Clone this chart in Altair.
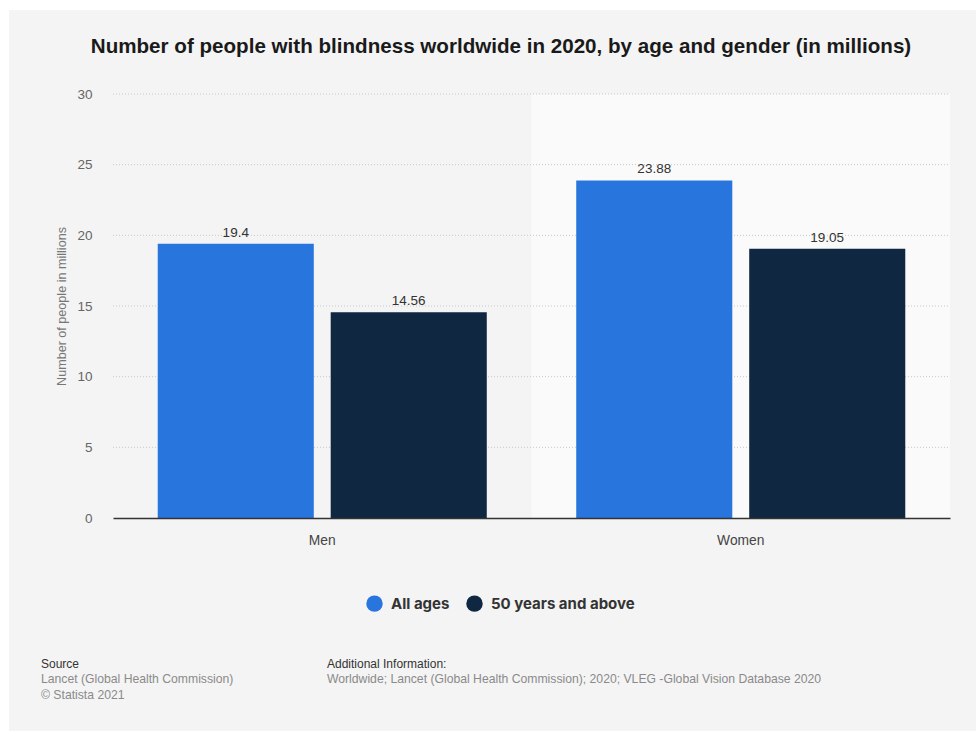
import altair as alt
import pandas as pd

genders = ["Men", "Men", "Women", "Women"]
groups = ["All ages", "50 years and above", "All ages", "50 years and above"]
values = [19.4, 14.56, 23.88, 19.05]
group_order = ["All ages", "50 years and above"]
group_colors = ["#2876dd", "#0f2740"]
y_ticks = [0, 5, 10, 15, 20, 25, 30]
grid_ticks = [5, 10, 15, 20, 25, 30]
title_text = "Number of people with blindness worldwide in 2020, by age and gender (in millions)"
y_title = "Number of people in millions"
source_lines = ["Lancet (Global Health Commission)", "© Statista 2021"]
info_line = "Worldwide; Lancet (Global Health Commission); 2020; VLEG -Global Vision Database 2020"

W, H = 837, 424
PL, PT = 113, 94
FONT = "Liberation Sans"

df = pd.DataFrame({"gender": genders, "group": groups, "value": values})
grid_df = pd.DataFrame({"v": grid_ticks})

x_scale = alt.Scale(paddingInner=0, paddingOuter=0)
y_scale = alt.Scale(domain=[0, 30], nice=False)
off_scale = alt.Scale(domain=group_order, paddingInner=0.0977, paddingOuter=0.2586)

X = alt.X("gender:N", scale=x_scale, sort=["Men", "Women"],
          axis=alt.Axis(title=None, labelAngle=0, ticks=False, domain=True,
                        domainColor="#333333", domainWidth=1.5, labelColor="#444444",
                        labelFontSize=13.8, labelPadding=15, labelFont=FONT, zindex=1))
Y = alt.Y("value:Q", scale=y_scale,
          axis=alt.Axis(title=y_title, values=y_ticks, grid=False, ticks=False, domain=False,
                        labelColor="#666666", labelFontSize=13.5, labelPadding=21,
                        labelFont=FONT, titleFont=FONT, titleFontSize=12.6,
                        titleFontWeight="normal", titleColor="#777777", titlePadding=8,
                        zindex=1))

bg = alt.Chart(pd.DataFrame({"a": [0]})).mark_rect(color="#f4f4f4").encode(
    x=alt.value(9 - PL), x2=alt.value(976 - PL + 5),
    y=alt.value(10 - PT), y2=alt.value(731 - PT + 5))

band = alt.Chart(df[df.gender == "Women"]).mark_rect(color="#fafafa").encode(
    x=X, y=alt.value(0), y2=alt.value(H))

grid = alt.Chart(grid_df).mark_rule(color="#c8c8c8", strokeDash=[1, 2], strokeWidth=1).encode(
    y=alt.Y("v:Q", scale=y_scale), x=alt.value(0), x2=alt.value(W))

bars = alt.Chart(df).mark_bar().encode(
    x=X, y=Y,
    xOffset=alt.XOffset("group:N", scale=off_scale, sort=group_order),
    color=alt.Color("group:N", sort=group_order,
                    scale=alt.Scale(domain=group_order, range=group_colors),
                    legend=alt.Legend(title=None, orient="none", direction="horizontal",
                                      legendX=366 - PL, legendY=595 - PT,
                                      symbolType="circle", symbolSize=270,
                                      symbolStrokeWidth=0, symbolOpacity=1,
                                      labelFont="Inter", labelFontSize=15,
                                      labelFontWeight="bold", labelColor="#333333",
                                      columnPadding=16, labelOffset=8)))

labels = alt.Chart(df).mark_text(dy=-11, fontSize=13.5, color="#333333", font=FONT).encode(
    x=X, y=Y,
    xOffset=alt.XOffset("group:N", scale=off_scale, sort=group_order),
    text=alt.Text("value:Q"))

def text_layer(s, x, y, color, size, weight="normal", align="left"):
    return alt.Chart(pd.DataFrame({"t": [s]})).mark_text(
        align=align, baseline="alphabetic", fontSize=size, color=color, font=FONT,
        fontWeight=weight
    ).encode(text="t:N", x=alt.value(x - PL), y=alt.value(y - PT))

foot = [
    text_layer(title_text, 501, 53, "#1a1a1a", 20.6, weight="bold", align="center"),
    text_layer("Source", 41, 668, "#333333", 12),
    text_layer(source_lines[0], 41, 683, "#8a8a8a", 12.2),
    text_layer(source_lines[1], 41, 699, "#8a8a8a", 12.2),
    text_layer("Additional Information:", 327, 668, "#333333", 12),
    text_layer(info_line, 327, 683, "#8a8a8a", 12.2),
]

chart = alt.layer(bg, band, grid, bars, labels, *foot).properties(
    width=W, height=H,
    autosize=alt.AutoSizeParams(type="none"),
    padding={"left": PL, "top": PT, "right": 976 - PL - W, "bottom": 731 - PT - H},
    background="white",
).configure_view(stroke=None)

chart.save("out.html", embed_options={"renderer": "svg", "actions": False})
